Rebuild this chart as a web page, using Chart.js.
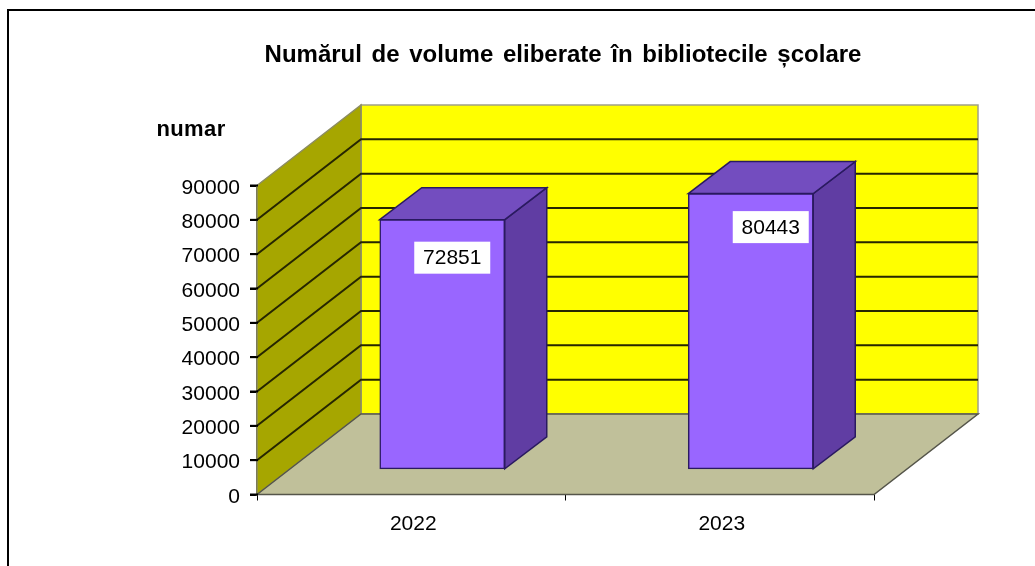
<!DOCTYPE html>
<html><head><meta charset="utf-8">
<style>html,body{margin:0;padding:0;background:#fff}canvas{display:block;filter:blur(0.35px)}</style>
<script src="https://cdn.jsdelivr.net/npm/chart.js@4"></script>
</head><body>
<canvas id="c" width="1035" height="566"></canvas>
<script>
const categories = ['2022', '2023'];
const values = [72851, 80443];
const axisTitle = 'numar';
const chartTitle = 'Numărul de volume eliberate în bibliotecile școlare';
const yMax = 90000, yStep = 10000;
const labelShiftX = [10, 20], labelShiftY = [38, 33.5];

const FONT = '"Liberation Sans", Arial, sans-serif';
const wallDx = 104, wallDy = -80.5;
const barDx = 31, barDy = -24.7;
const barDepthX = 42, barDepthY = -32;

function poly(ctx, pts, fill, stroke, lw) {
  ctx.beginPath();
  pts.forEach((p, i) => i ? ctx.lineTo(p[0], p[1]) : ctx.moveTo(p[0], p[1]));
  ctx.closePath();
  if (fill) { ctx.fillStyle = fill; ctx.fill(); }
  if (stroke) { ctx.strokeStyle = stroke; ctx.lineWidth = lw || 1; ctx.stroke(); }
}

const threeD = {
  id: 'threeD',
  afterLayout(chart) {
    chart.scales.y.left = 0;
  },
  beforeDraw(chart) {
    const ctx = chart.ctx;
    ctx.save();
    ctx.fillStyle = '#fff';
    ctx.fillRect(0, 0, chart.width, chart.height);
    ctx.strokeStyle = '#000';
    ctx.lineWidth = 2;
    ctx.beginPath();
    ctx.moveTo(8, chart.height);
    ctx.lineTo(8, 10);
    ctx.lineTo(chart.width, 10);
    ctx.stroke();
    ctx.restore();
    ctx.wordSpacing = '3px';
  },
  beforeDatasetsDraw(chart) {
    const ctx = chart.ctx, a = chart.chartArea, y = chart.scales.y;
    ctx.save();
    const L = a.left, R = a.right, T = a.top, B = a.bottom;
    poly(ctx, [[L + wallDx, T + wallDy], [R + wallDx, T + wallDy], [R + wallDx, B + wallDy], [L + wallDx, B + wallDy]], '#ffff00', '#a0a088', 1.5);
    poly(ctx, [[L, T], [L + wallDx, T + wallDy], [L + wallDx, B + wallDy], [L, B]], '#a6a600', '#8c8c60', 1.5);
    poly(ctx, [[L, B], [L + wallDx, B + wallDy], [R + wallDx, B + wallDy], [R, B]], '#c0c09a', '#55554a', 1.5);
    ctx.strokeStyle = '#262600';
    ctx.lineWidth = 2;
    for (let v = yStep; v < yMax; v += yStep) {
      const py = y.getPixelForValue(v);
      ctx.beginPath();
      ctx.moveTo(L, py);
      ctx.lineTo(L + wallDx, py + wallDy);
      ctx.lineTo(R + wallDx, py + wallDy);
      ctx.stroke();
    }
    chart.getDatasetMeta(0).data.forEach(el => {
      const l = el.x - el.width / 2 + barDx, r = el.x + el.width / 2 + barDx;
      const t = el.y + barDy, b = el.base + barDy;
      const edge = '#2a1a60';
      poly(ctx, [[r, t], [r + barDepthX, t + barDepthY], [r + barDepthX, b + barDepthY], [r, b]], '#603da3', edge, 1.5);
      poly(ctx, [[l, t], [l + barDepthX, t + barDepthY], [r + barDepthX, t + barDepthY], [r, t]], '#734dbf', edge, 1.5);
    });
    ctx.restore();
  },
  beforeDatasetDraw(chart) {
    const ctx = chart.ctx;
    ctx.save();
    ctx.translate(barDx, barDy);
  },
  afterDatasetDraw(chart) {
    chart.ctx.restore();
  },
  afterDraw(chart) {
    const ctx = chart.ctx, y = chart.scales.y, a = chart.chartArea;
    ctx.save();
    ctx.strokeStyle = '#000';
    ctx.lineWidth = 2;
    y.ticks.forEach((t, i) => {
      const py = y.getPixelForTick(i);
      ctx.beginPath();
      ctx.moveTo(a.left - 7, py);
      ctx.lineTo(a.left + 1, py);
      ctx.stroke();
    });
    ctx.textAlign = 'center';
    ctx.textBaseline = 'middle';
    ctx.font = '21px ' + FONT;
    chart.getDatasetMeta(0).data.forEach((el, i) => {
      const cx = el.x + barDx + labelShiftX[i], cy = el.y + barDy + labelShiftY[i];
      ctx.fillStyle = '#fff';
      ctx.fillRect(cx - 38, cy - 16, 76, 32);
      ctx.fillStyle = '#000';
      ctx.fillText(String(values[i]), cx, cy + 1);
    });
    ctx.font = 'bold 22px ' + FONT;
    ctx.letterSpacing = '0.4px';
    ctx.fillText(axisTitle, 191, 130);
    ctx.restore();
  }
};

new Chart(document.getElementById('c'), {
  type: 'bar',
  data: {
    labels: categories,
    datasets: [{
      data: values,
      backgroundColor: '#9966ff',
      borderColor: '#2a1a60',
      borderWidth: 1.5,
      borderSkipped: false,
      barThickness: 125
    }]
  },
  options: {
    responsive: false,
    animation: false,
    layout: { padding: { left: 252, right: 161, top: 0, bottom: 0 } },
    plugins: {
      legend: { display: false },
      tooltip: { enabled: false },
      title: {
        display: true,
        text: chartTitle,
        color: '#000',
        font: { family: FONT, size: 24, weight: 'bold', lineHeight: 1.2 },
        padding: { top: 40.6, bottom: 116.1 }
      }
    },
    scales: {
      x: {
        afterFit(s) { s.height = 71.5; },
        border: { color: '#333', width: 1 },
        grid: { drawOnChartArea: false, drawTicks: true, tickLength: 6, color: '#000' },
        ticks: { color: '#000', font: { family: FONT, size: 21 }, padding: 11, maxRotation: 0, labelOffset: 2 }
      },
      y: {
        min: 0, max: yMax,
        afterFit(s) { s.width = 5; },
        border: { color: '#444', width: 1.5 },
        grid: { drawOnChartArea: false, drawTicks: true, tickLength: 7, color: '#000', lineWidth: 2 },
        ticks: { stepSize: yStep, color: '#000', font: { family: FONT, size: 21 }, padding: 10, labelOffset: 2.5, callback: v => String(v) }
      }
    }
  },
  plugins: [threeD]
});
</script>
</body></html>
